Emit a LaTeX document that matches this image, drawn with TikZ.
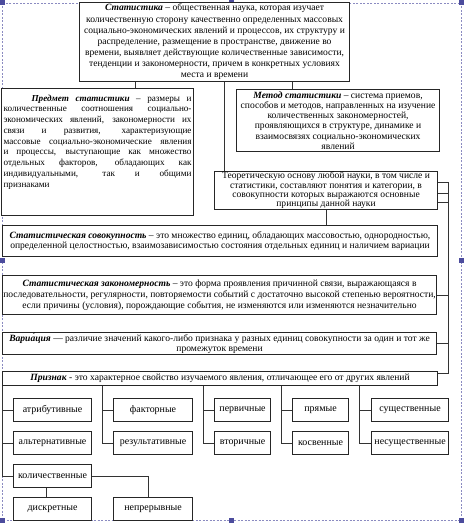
\documentclass[tikz,border=0pt]{standalone}
\usepackage{fontspec}
\setmainfont{Liberation Serif}
\usetikzlibrary{calc}
\begin{document}
\begin{tikzpicture}[x=1bp,y=-1bp,
  bx/.style={draw=black!85, line width=1.1bp, fill=white, inner sep=0.5bp, align=center, anchor=north west, font=\fontsize{9.6}{10.5}\selectfont},
  sm/.style={draw=black!85, line width=1.1bp, fill=white, inner sep=0pt, anchor=north west, font=\fontsize{10}{11}\selectfont, minimum height=23bp},
  ln/.style={draw=black!80, line width=0.9bp},
  hd/.style={fill=blue!45!black!70!white, draw=none, minimum size=5bp, inner sep=0pt}]
\useasboundingbox (0,0) rectangle (464,524);
\draw[dashed, draw=blue!30!gray!70, line width=0.6bp, dash pattern=on 2bp off 1.5bp] (2,3) rectangle (461,520);
\foreach \p/\n in {{(2,3)}/h1,{(231,3)}/h2,{(461,3)}/h3,{(2,260)}/h4,{(461,260)}/h5,{(2,520)}/h6,{(231,520)}/h7,{(461,520)}/h8}
  \node[hd] (\n) at \p {};

\node[bx, minimum width=270bp, minimum height=79bp, font=\fontsize{9.6}{11.2}\selectfont] (top) at (79,2)
 {\textbf{\textit{Статистика}} – общественная наука, которая изучает\\
  количественную сторону качественно определенных массовых\\
  социально-экономических явлений и процессов, их структуру и\\
  распределение, размещение в пространстве, движение во\\
  времени, выявляет действующие количественные зависимости,\\
  тенденции и закономерности, причем в конкретных условиях\\
  места и времени};

\node[bx, align=left, minimum width=192bp, minimum height=127bp, font=\fontsize{9.2}{10.8}\selectfont] (pr) at (1,88)
 {\makebox[188bp][s]{\hspace*{28bp}\textbf{\textit{Предмет статистики}} – размеры и}\\
  \makebox[188bp][s]{количественные соотношения социально-}\\
  \makebox[188bp][s]{экономических явлений, закономерности их}\\
  \makebox[188bp][s]{связи и развития, характеризующие}\\
  \makebox[188bp][s]{массовые социально-экономические явления}\\
  \makebox[188bp][s]{и процессы, выступающие как множество}\\
  \makebox[188bp][s]{отдельных факторов, обладающих как}\\
  \makebox[188bp][s]{индивидуальными, так и общими}\\
  признаками\rule[-22bp]{0pt}{0pt}};

\node[bx, minimum width=203bp, minimum height=62bp, font=\fontsize{9.6}{10.3}\selectfont] (met) at (236,89)
 {\textbf{\textit{Метод статистики}} – система приемов,\\
  способов и методов, направленных на изучение\\
  количественных закономерностей,\\
  проявляющихся в структуре, динамике и\\
  взаимосвязях социально-экономических\\
  явлений};

\node[bx, minimum width=223bp, minimum height=36bp, font=\fontsize{9.6}{9.4}\selectfont] (teor) at (214,171)
 {Теоретическую основу любой науки, в том числе и\\
  статистики, составляют понятия и категории, в\\
  совокупности которых выражаются основные\\
  принципы данной науки};

\node[bx, minimum width=435bp, minimum height=31bp, font=\fontsize{9.6}{9.6}\selectfont] (sov) at (2,225)
 {\textbf{\textit{Статистическая совокупность}} – это множество единиц, обладающих массовостью, однородностью,\\
  определенной целостностью, взаимозависимостью состояния отдельных единиц и наличием вариации};

\node[bx, minimum width=434bp, minimum height=39bp, font=\fontsize{9.6}{11}\selectfont] (zak) at (2,275)
 {\textbf{\textit{Статистическая закономерность}} – это форма проявления причинной связи, выражающаяся в\\
  последовательности, регулярности, повторяемости событий с достаточно высокой степенью вероятности,\\
  если причины (условия), порождающие события, не изменяются или изменяются незначительно};

\node[bx, minimum width=434bp, minimum height=21bp, font=\fontsize{9.6}{10}\selectfont] (var) at (2,332)
 {\textbf{\textit{Вариа́ция}} — различие значений какого-либо признака у разных единиц совокупности за один и тот же\\
  промежуток времени};

\node[bx, minimum width=435bp, minimum height=14bp] (priz) at (2,371)
 {\textbf{\textit{Признак}} - это характерное свойство изучаемого явления, отличающее его от других явлений};

\node[sm, minimum width=78bp] (a1) at (13,398) {атрибутивные};
\node[sm, minimum width=78bp] (a2) at (13,431) {альтернативные};
\node[sm, minimum width=78bp] (a3) at (13,464) {количественные};
\node[sm, minimum width=78bp] (d) at (13,497) {дискретные};
\node[sm, minimum width=79bp] (n) at (113,497) {непрерывные};
\node[sm, minimum width=79bp] (f1) at (113,398) {факторные};
\node[sm, minimum width=79bp] (f2) at (113,431) {результативные};
\node[sm, minimum width=56bp] (p1) at (214,398) {первичные};
\node[sm, minimum width=56bp] (p2) at (214,431) {вторичные};
\node[sm, minimum width=56bp] (r1) at (292,398) {прямые};
\node[sm, minimum width=56bp] (r2) at (292,431) {косвенные};
\node[sm, minimum width=77bp] (s1) at (371,398) {существенные};
\node[sm, minimum width=77bp] (s2) at (371,431) {несущественные};

% upper connectors
\coordinate (t1) at ([xshift=56bp]top.south west);
\draw[ln] (t1) -- (t1 |- pr.north);
\coordinate (t2) at ([xshift=145bp]top.south west);
\draw[ln] (t2) -- (t2 |- teor.north);
\coordinate (t3) at ([xshift=213bp]top.south west);
\draw[ln] (t3) -- (t3 |- met.north);
\coordinate (t4) at ([xshift=112bp]teor.south west);
\draw[ln] (t4) -- (t4 |- sov.north);

% right spine
\coordinate (rs) at ([xshift=10bp,yshift=-11bp]teor.north east);
\coordinate (rb) at ([yshift=-2bp]priz.north east);
\draw[ln] ([yshift=-11bp]teor.north east) -- (rs) -- (rs |- rb) -- (rb);
\draw[ln] ([yshift=-22bp]teor.north east) -- ++(10,0);
\draw[ln] ([yshift=-31bp]teor.north east) -- ++(10,0);
\draw[ln] (zak.east) -- (zak.east -| rs);
\draw[ln] (var.east) -- (var.east -| rs);

% lower tree
\draw[ln] (priz.south west) |- (a3.west);
\draw[ln] (a1.west) -- (a1.west -| priz.south west);
\draw[ln] (a2.west) -- (a2.west -| priz.south west);
\coordinate (c2) at ([xshift=-11bp]f1.west);
\draw[ln] (f2.west) -| (c2 |- priz.south);
\draw[ln] (f1.west) -- (c2);
\coordinate (c3) at ([xshift=-11bp]p1.west);
\draw[ln] (p2.west) -| (c3 |- priz.south);
\draw[ln] (p1.west) -- (c3);
\coordinate (c4) at ([xshift=-11bp]r1.west);
\draw[ln] (r2.west) -| (c4 |- priz.south);
\draw[ln] (r1.west) -- (c4);
\coordinate (c5) at ([xshift=-12bp]s1.west);
\draw[ln] (s2.west) -| (c5 |- priz.south);
\draw[ln] (s1.west) -- (c5);
\coordinate (k1) at ([xshift=-6bp]a3.south);
\draw[ln] (k1) -- (k1 |- d.north);
\coordinate (k2) at ([xshift=-5bp]n.north);
\draw[ln] (a3.east) -| (k2);
\end{tikzpicture}
\end{document}
